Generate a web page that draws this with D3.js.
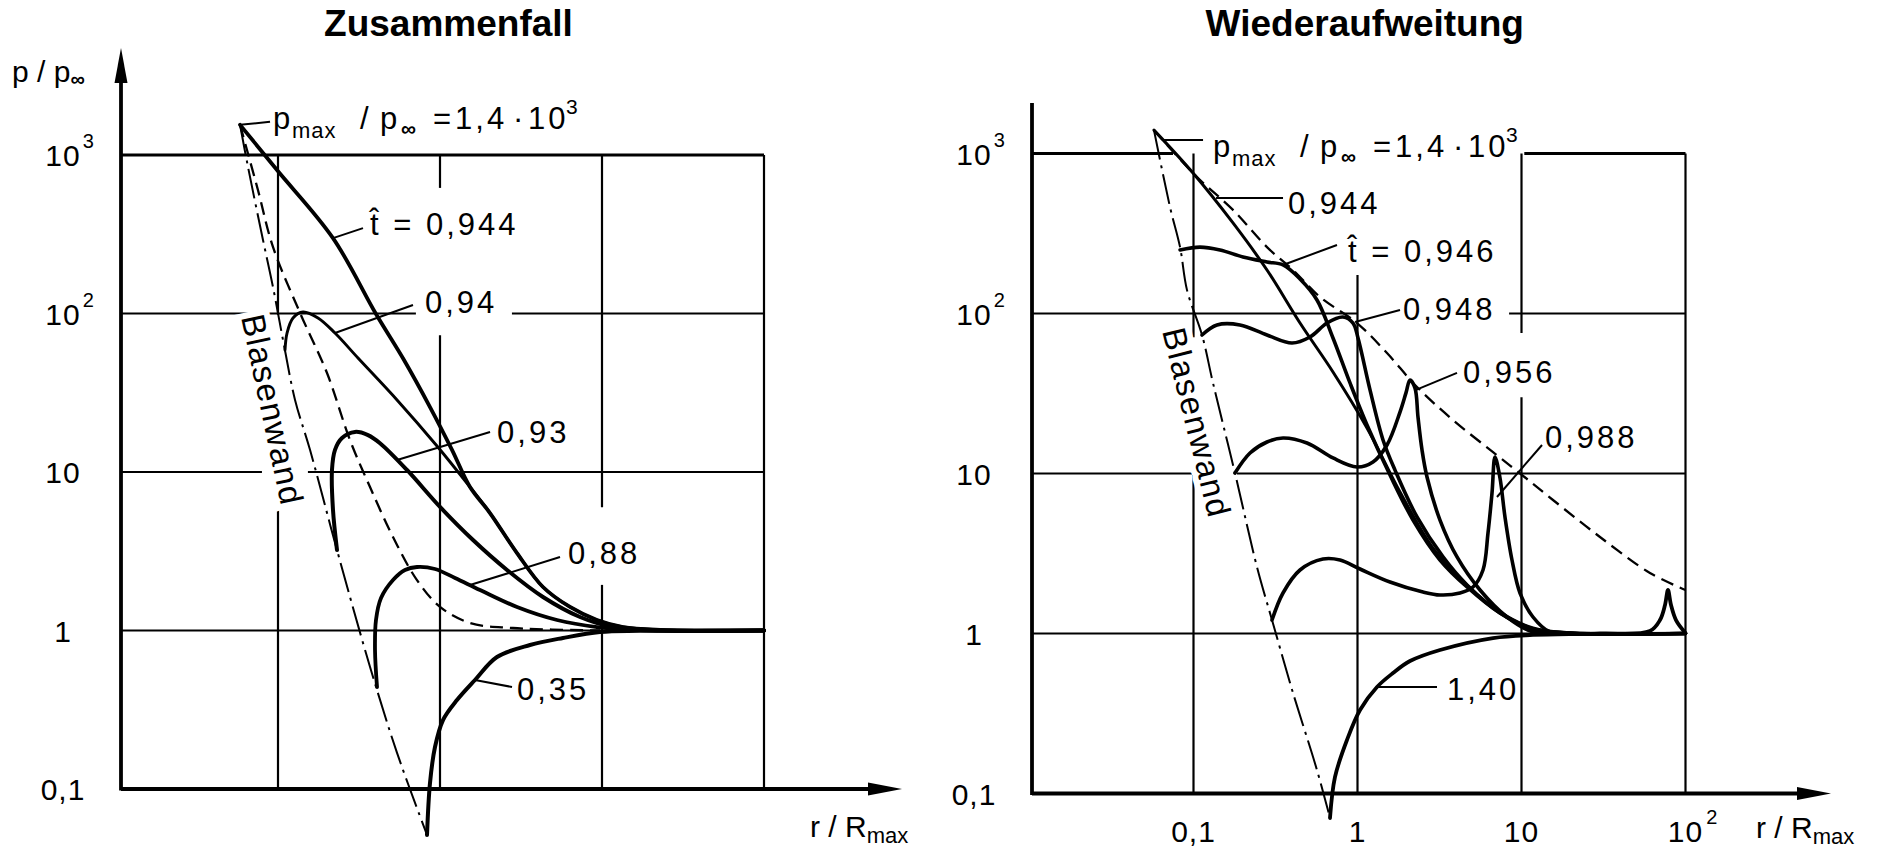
<!DOCTYPE html>
<html>
<head>
<meta charset="utf-8">
<script src="https://cdn.jsdelivr.net/npm/d3@7"></script>
<style>
  body { margin: 0; background: #fff; }
  svg { display: block; }
  text { font-family: "Liberation Sans", Arial, sans-serif; fill: #000; }
</style>
</head>
<body>
<svg id="chart" width="1879" height="853"></svg>
<script>
// ---------- axes ----------
const yTicks = [0.1, 1, 10, 100, 1000];
const yTickText = ["0,1", "1", "10", "10", "10"];
const yTickExp = ["", "", "", "2", "3"];
const xTicks = [0.1, 1, 10, 100];
const xTickText = ["0,1", "1", "10", "10"];
const xTickExp = ["", "", "", "2"];

// ---------- Zusammenfall (collapse): [r/Rmax, p/p_inf] ----------
const collapsePeak = [0.0583, 1550];
const collapseWall = [[0.0583, 1550], [0.0653, 840], [0.0808, 291], [0.0931, 147], [0.1089, 63.2], [0.1274, 28.5],
  [0.1576, 13.8], [0.2313, 3.22], [0.370, 0.589], [0.543, 0.169], [0.8315, 0.0513]];
const collapseEnvelope = [[0.0583, 1550], [0.0752, 601], [0.0931, 263], [0.1367, 101], [0.2007, 42.1], [0.2782, 15.9],
  [0.3698, 8.04], [0.5128, 3.89], [0.7211, 2.08], [1.0, 1.41], [1.532, 1.115], [2.822, 1.037], [9.72, 1.0]];
const collapse0944 = [[0.0583, 1550], [0.0986, 804], [0.2185, 299], [0.4027, 99.3], [0.5995, 50.9], [0.8675, 25.7],
  [1.186, 13.8], [1.532, 8.04], [2.035, 5.51], [2.988, 3.08], [4.322, 1.881], [6.346, 1.407],
  [9.31, 1.165], [13.48, 1.052], [22.8, 1.01], [100, 1]];
const collapse094 = [[0.1105, 58.9], [0.1137, 75.3], [0.1238, 93.7], [0.1427, 102.2], [0.1766, 93.7], [0.2248, 75.3],
  [0.3118, 52.4], [0.543, 28.5], [0.958, 14.6], [1.532, 8.04], [2.035, 5.51], [2.988, 3.08], [4.322, 1.881],
  [6.346, 1.407], [9.31, 1.165], [13.48, 1.052], [22.8, 1.01], [100, 1]];
const collapse093 = [[0.2313, 3.22], [0.2185, 5.76], [0.2154, 10.3], [0.2248, 13.8], [0.2484, 16.4], [0.2987, 17.9],
  [0.3594, 17.1], [0.4263, 15.2], [0.6255, 10.3], [1.0, 6.02], [1.599, 3.72], [2.592, 2.409], [4.322, 1.627],
  [7.315, 1.217], [11.69, 1.052], [22.8, 1.0], [100, 1]];
const collapse088 = [[0.4085, 0.44], [0.397, 0.753], [0.4026, 1.165], [0.4324, 1.603], [0.5128, 2.083], [0.608, 2.409],
  [0.7211, 2.515], [0.9314, 2.443], [1.238, 2.144], [1.766, 1.801], [2.988, 1.407], [5.275, 1.165], [9.31, 1.052],
  [17.2, 1.005], [100, 1]];
const collapse035 = [[0.8315, 0.0513], [0.8675, 0.1091], [0.9314, 0.184], [1.0436, 0.2724], [1.273, 0.3642],
  [1.644, 0.4872], [2.248, 0.6806], [3.594, 0.81], [5.745, 0.897], [9.72, 0.978], [17.2, 0.995], [100, 1]];

// ---------- Wiederaufweitung (rebound) ----------
const reboundPeak = [0.0574, 1400];
const reboundWall = [[0.0574, 1400], [0.0719, 463], [0.0828, 260], [0.0913, 140], [0.1127, 73.4], [0.1315, 36.8],
  [0.179, 10.07], [0.2439, 2.60], [0.3011, 1.214], [0.4044, 0.425], [0.5662, 0.140], [0.6797, 0.0703]];
const reboundEnvelope = [[0.0574, 1400], [0.105, 713], [0.1741, 444], [0.2806, 260], [0.4044, 187], [0.5905, 126.8],
  [0.993, 87.2], [1.513, 56.6], [2.306, 34.7], [3.822, 21.6], [6.704, 13.6], [10.07, 9.79], [15.56, 6.83],
  [30.1, 4.01], [60.7, 2.39], [100, 1.87]];
const rebound0944 = [[0.0574, 1400], [0.0993, 755], [0.1741, 368], [0.2806, 187], [0.4461, 87.2], [0.7088, 43.1],
  [1.143, 19.25], [1.816, 7.66], [2.886, 3.42], [4.653, 2.01], [7.394, 1.363], [11.75, 1.082], [19.75, 1.007], [100, 1]];
const rebound0946 = [[0.0828, 249.5], [0.1095, 260], [0.1451, 249.5], [0.2003, 225.5], [0.2806, 209.8], [0.3513, 201],
  [0.4461, 164.3], [0.5662, 121.5], [0.7088, 70.3], [0.9001, 36.8], [1.143, 20.1], [1.578, 9.79], [2.18, 5.12],
  [3.184, 2.88], [4.653, 1.953], [7.394, 1.343], [11.75, 1.067], [19.75, 1.007], [100, 1]];
const rebound0948 = [[0.1127, 73.4], [0.1391, 84.8], [0.192, 84.8], [0.2806, 73.4], [0.3988, 65.4], [0.5133, 71.3],
  [0.6516, 87.2], [0.8159, 95.1], [0.9389, 87.2], [1.007, 70.3], [1.192, 33.3], [1.431, 16.2], [1.693, 10.5],
  [2.306, 5.35], [3.322, 3.01], [4.653, 2.01], [7.394, 1.343], [11.75, 1.067], [19.75, 1.007], [100, 1]];
const rebound0956 = [[0.179, 10.07], [0.2211, 13.43], [0.2806, 15.74], [0.3513, 16.67], [0.4921, 15.51], [0.7088, 12.5],
  [0.993, 10.98], [1.243, 11.8], [1.513, 15.07], [1.816, 24.2], [1.975, 31.9], [2.09, 38.4], [2.242, 34.2],
  [2.338, 22.55], [2.474, 14.03], [2.653, 9.51], [3.184, 5.12], [4.044, 3.01], [5.585, 1.87], [8.157, 1.268],
  [11.75, 1.022], [19.75, 1.0], [100, 1]];
const rebound0988 = [[0.3011, 1.214], [0.3513, 1.791], [0.4461, 2.494], [0.616, 2.921], [0.7823, 2.88], [1.036, 2.53],
  [1.578, 2.099], [2.508, 1.817], [3.184, 1.74], [4.217, 1.791], [5.062, 1.953], [5.825, 2.494], [6.248, 4.25],
  [6.61, 7.55], [6.894, 12.68], [7.394, 9.37], [7.93, 5.35], [8.75, 2.88], [9.79, 1.791], [11.75, 1.268],
  [14.92, 1.022], [19.75, 1.0], [100, 1]];
const rebound140 = [[0.6797, 0.0703], [0.729, 0.1268], [0.8629, 0.216], [1.036, 0.3325], [1.315, 0.463], [1.646, 0.566],
  [2.09, 0.673], [3.184, 0.789], [6.704, 0.937], [11.75, 0.979], [30.1, 1.0], [60.7, 1.037], [69.9, 1.214],
  [75.0, 1.507], [78.2, 1.87], [81.6, 1.507], [87.5, 1.214], [100, 1.007]];

// curve labels: point on the curve, leader vector (px), text offset from leader end (px)
const collapseNotes = [
  { text: "t\u0302 = 0,944", at: [0.2185, 299], leader: [30, -10], off: [7, 7] },
  { text: "0,94", at: [0.2248, 75.3], leader: [78, -28], off: [12, 8] },
  { text: "0,93", at: [0.543, 11.9], leader: [93, -28], off: [7, 11] },
  { text: "0,88", at: [1.532, 1.936], leader: [90, -28], off: [8, 7] },
  { text: "0,35", at: [1.644, 0.4872], leader: [37, 7], off: [5, 13] }
];
const reboundNotes = [
  { text: "0,944", at: [0.1372, 527], leader: [67, 0], off: [5, 16] },
  { text: "t\u0302 = 0,946", at: [0.3513, 201], leader: [54, -20], off: [11, 17] },
  { text: "0,948", at: [0.9656, 88.5], leader: [45, -12], off: [3, 10] },
  { text: "0,956", at: [2.274, 33.3], leader: [41, -17], off: [6, 10] },
  { text: "0,988", at: [7.09, 7.13], leader: [45, -52], off: [3, 3] },
  { text: "1,40", at: [1.315, 0.463], leader: [60, 0], off: [10, 13] }
];

const panels = [
  {
    title: "Zusammenfall", xRange: [278, 764], yRange: [789, 155], axisX: 121, yTop: 48, yArrow: true,
    xArrow: 902, xLabels: false, xTitle: [810, 837],
    series: [
      { data: collapse0944, w: 3.8 }, { data: collapse094, w: 2.9 }, { data: collapse093, w: 4 },
      { data: collapse088, w: 3.8 }, { data: collapse035, w: 4 }
    ],
    wall: collapseWall, envelope: collapseEnvelope, notes: collapseNotes,
    peakNote: { at: collapsePeak, leader: [30, -3], off: [3, 7] },
    wallText: { at: [0.0591, 95.1], angle: 78 },
    gaps: [
      { dir: "v", at: 1, span: [73, 620] }, { dir: "v", at: 10, span: [1.94, 6.0] },
      { dir: "v", at: 0.1, span: [6.0, 98] }, { dir: "h", at: 100, span: [0.71, 2.78] },
      { dir: "h", at: 10, span: [0.0796, 0.153] }
    ]
  },
  {
    title: "Wiederaufweitung", xRange: [1193.5, 1685.5], yRange: [793.5, 153.5], axisX: 1032, yTop: 103, yArrow: false,
    xArrow: 1831, xLabels: true, xTitle: [1756, 838],
    series: [
      { data: rebound0944, w: 3 }, { data: rebound0946, w: 3.6 }, { data: rebound0948, w: 3.6 },
      { data: rebound0956, w: 3.6 }, { data: rebound0988, w: 3.6 }, { data: rebound140, w: 3.8 }
    ],
    wall: reboundWall, envelope: reboundEnvelope, notes: reboundNotes,
    peakNote: { at: [0.0643, 1214], leader: [41, 0], off: [10, 17] },
    wallText: { at: [0.0643, 77.7], angle: 76 },
    gaps: [
      { dir: "h", at: 1000, span: [0.075, 10.4] }, { dir: "v", at: 1, span: [174, 1000] },
      { dir: "v", at: 10, span: [30, 75.5] }, { dir: "h", at: 100, span: [1.0, 8.4] },
      { dir: "h", at: 10, span: [0.098, 0.184] }, { dir: "v", at: 0.1, span: [9.8, 71] }
    ]
  }
];

const svg = d3.select("#chart");
svg.append("rect").attr("width", 1879).attr("height", 853).attr("fill", "#fff");

// cut [lo, hi] into pieces that skip the gaps (values in data units)
function segments(lo, hi, gaps) {
  let segs = [[lo, hi]];
  gaps.forEach(([a, b]) => {
    segs = segs.flatMap(([s, e]) => {
      if (b <= s || a >= e) return [[s, e]];
      const out = [];
      if (a > s) out.push([s, a]);
      if (b < e) out.push([b, e]);
      return out;
    });
  });
  return segs;
}

function label(g, text, x, y, size, ls) {
  return g.append("text").attr("x", x).attr("y", y)
    .attr("font-size", size).attr("letter-spacing", ls || 0)
    .attr("stroke", "#fff").attr("stroke-width", 7).attr("paint-order", "stroke")
    .attr("stroke-linejoin", "round").text(text);
}

panels.forEach(cfg => {
  const g = svg.append("g");
  const x = d3.scaleLog().domain([0.1, 100]).range(cfg.xRange);
  const y = d3.scaleLog().domain([0.1, 1000]).range(cfg.yRange);
  const x0 = cfg.axisX, y0 = y(0.1);
  const rLeft = x.invert(x0);

  // title
  g.append("text").attr("x", (x0 + x(100)) / 2 + 6).attr("y", 36).attr("text-anchor", "middle")
    .attr("font-size", 37).attr("font-weight", "bold").text(cfg.title);

  // grid
  const grid = g.append("g").attr("stroke", "#000").attr("stroke-width", 2.2);
  xTicks.forEach(r => {
    const gaps = cfg.gaps.filter(d => d.dir === "v" && d.at === r).map(d => d.span);
    segments(0.1, 1000, gaps).forEach(([a, b]) => {
      grid.append("line").attr("x1", x(r)).attr("x2", x(r)).attr("y1", y(a)).attr("y2", y(b));
    });
  });
  yTicks.slice(1).forEach(p => {
    const gaps = cfg.gaps.filter(d => d.dir === "h" && d.at === p).map(d => d.span);
    segments(rLeft, 100, gaps).forEach(([a, b]) => {
      grid.append("line").attr("x1", x(a)).attr("x2", x(b)).attr("y1", y(p)).attr("y2", y(p))
        .attr("stroke-width", p === 1000 ? 3 : 2.2);
    });
  });

  // axes
  const ax = g.append("g").attr("stroke", "#000").attr("stroke-width", 3.8);
  ax.append("line").attr("x1", x0).attr("x2", x0).attr("y1", y0 + 1.5)
    .attr("y2", cfg.yArrow ? cfg.yTop + 20 : cfg.yTop);
  ax.append("line").attr("x1", x0).attr("x2", cfg.xArrow - 20).attr("y1", y0).attr("y2", y0);
  if (cfg.yArrow) {
    g.append("path").attr("d", `M${x0},${cfg.yTop} L${x0 - 6.5},${cfg.yTop + 35} L${x0 + 6.5},${cfg.yTop + 35} Z`);
  }
  g.append("path").attr("d", `M${cfg.xArrow},${y0} L${cfg.xArrow - 34},${y0 - 6.5} L${cfg.xArrow - 34},${y0 + 6.5} Z`);

  // tick labels
  yTicks.forEach((p, i) => {
    const t = g.append("text").attr("x", x0 - 58).attr("y", y(p) + 11).attr("text-anchor", "middle")
      .attr("font-size", 30).attr("letter-spacing", 1).text(yTickText[i]);
    if (yTickExp[i]) {
      const w = t.node().getComputedTextLength();
      g.append("text").attr("x", x0 - 58 + w / 2 + 2).attr("y", y(p) - 7).attr("font-size", 20).text(yTickExp[i]);
    }
  });
  if (cfg.xLabels) {
    xTicks.forEach((r, i) => {
      const t = g.append("text").attr("x", x(r)).attr("y", y0 + 48).attr("text-anchor", "middle")
        .attr("font-size", 30).attr("letter-spacing", 1).text(xTickText[i]);
      if (xTickExp[i]) {
        const w = t.node().getComputedTextLength();
        g.append("text").attr("x", x(r) + w / 2 + 3).attr("y", y0 + 30).attr("font-size", 20).text(xTickExp[i]);
      }
    });
  }

  // axis titles
  const xt = g.append("text").attr("x", cfg.xTitle[0]).attr("y", cfg.xTitle[1]).attr("font-size", 30);
  xt.append("tspan").text("r / R");
  xt.append("tspan").attr("dy", 6).attr("font-size", 22).text("max");
  if (cfg.yArrow) {
    const yt = g.append("text").attr("x", 12).attr("y", 82).attr("font-size", 30);
    yt.append("tspan").text("p / p");
    yt.append("tspan").attr("dy", 4).attr("font-size", 20).attr("font-weight", "bold").text("\u221e");
  }

  // Blasenwand text
  const wp = [x(cfg.wallText.at[0]), y(cfg.wallText.at[1])];
  g.append("text").attr("transform", `translate(${wp[0]},${wp[1]}) rotate(${cfg.wallText.angle})`)
    .attr("font-size", 33).attr("letter-spacing", 1.5)
    .attr("stroke", "#fff").attr("stroke-width", 12).attr("paint-order", "stroke").text("Blasenwand");

  // curve labels (text first so its halo masks the grid)
  const leaders = [];
  cfg.notes.forEach(n => {
    const sx = x(n.at[0]), sy = y(n.at[1]);
    const ex = sx + n.leader[0], ey = sy + n.leader[1];
    leaders.push([sx, sy, ex, ey]);
    label(g, n.text, ex + n.off[0], ey + n.off[1], 31, 3);
  });

  // p_max label
  const pn = cfg.peakNote;
  const psx = x(pn.at[0]), psy = y(pn.at[1]);
  const pex = psx + pn.leader[0], pey = psy + pn.leader[1];
  leaders.push([psx, psy, pex, pey]);
  const px = pex + pn.off[0], py = pey + pn.off[1];
  const pieces = [["p", 0, 0, 31], ["max", 19, 9, 22], ["/", 87, 0, 31], ["p", 107, 0, 31],
    ["\u221e", 128, 7, 21], ["=", 160, 0, 31], ["1,4", 182, 0, 31], ["\u00b7", 240, 0, 31],
    ["10", 255, 0, 31], ["3", 293, -15, 21]];
  pieces.forEach(([s, dx, dy, fs]) => {
    const t = label(g, s, px + dx, py + dy, fs, s === "1,4" || s === "10" ? 3 : 1);
    if (s === "\u221e") t.attr("font-weight", "bold");
  });

  // curves
  const line = d3.line().x(d => x(d[0])).y(d => y(d[1])).curve(d3.curveCatmullRom.alpha(0.5));
  g.append("path").attr("d", line(cfg.wall)).attr("fill", "none").attr("stroke", "#000")
    .attr("stroke-width", 2).attr("stroke-dasharray", "30,6,3,6");
  g.append("path").attr("d", line(cfg.envelope)).attr("fill", "none").attr("stroke", "#000")
    .attr("stroke-width", 2.3).attr("stroke-dasharray", "13,7");
  cfg.series.forEach(s => {
    g.append("path").attr("d", line(s.data)).attr("fill", "none").attr("stroke", "#000")
      .attr("stroke-width", s.w).attr("stroke-linejoin", "round").attr("stroke-linecap", "round");
  });

  // leaders
  leaders.forEach(([a, b, c, d]) => {
    g.append("line").attr("x1", a).attr("y1", b).attr("x2", c).attr("y2", d)
      .attr("stroke", "#000").attr("stroke-width", 2);
  });
});
</script>
</body>
</html>
